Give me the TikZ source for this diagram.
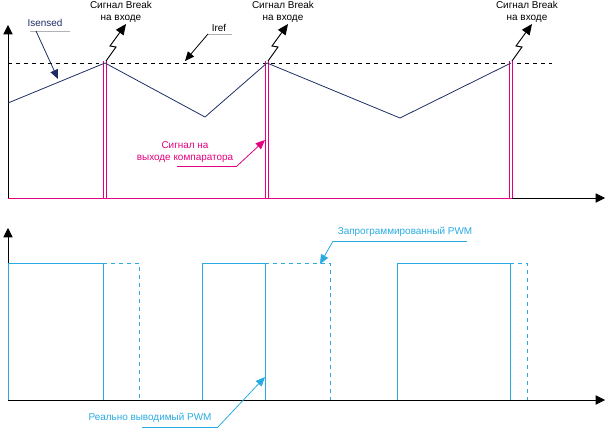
\documentclass[tikz,border=0pt]{standalone}
\usepackage{fontspec}
\setmainfont{Liberation Sans}
\definecolor{navy}{RGB}{31,45,100}
\definecolor{magent}{RGB}{228,0,126}
\definecolor{pwmblue}{RGB}{41,171,226}
\tikzset{
  lbl/.style={font=\fontsize{7.5}{8.5}\selectfont, inner sep=1pt, align=center},
  axis/.style={-{Triangle[length=7pt,width=7pt]}, black, line width=0.6pt},
  lead/.style={-{Triangle[length=7pt,width=6pt]}, line width=0.6pt},
  bolt/.style={-{Triangle[length=8pt,width=7pt]}, black, line width=0.7pt},
  pulse/.style={magent, double=white, double distance=1.5pt, line width=0.6pt}
}
\usetikzlibrary{arrows.meta}
\begin{document}
\begin{tikzpicture}[x=0.0265cm, y=-0.0265cm, line width=0.6pt]
  \useasboundingbox (0,0) rectangle (606,429);
  % upper plot
  \draw [axis] (8,198) -- (8,25);
  \draw [axis] (512,198) -- (605,198);
  \draw [magent] (8,198) -- (512,198);
  \draw [dashed] (8,63) -- (552,63);
  \foreach \px in {105,267,511}
    \draw [pulse] (\px,198) -- (\px,61);
  \draw [navy] (8,103) -- (105,63) -- (205,117) -- (267,63) -- (400,118) -- (511,63);
  % break bolts
  \foreach \px/\nm in {105/a,267/b,511/c}{
    \coordinate (bolt\nm) at (\px+1,61);
    \draw [bolt] (bolt\nm) -- ++(10,-14) -- ++(-6,-1) -- ++(16,-22);
    \node [lbl] (brk\nm) at (\px+16,12) {Сигнал Break\\на входе};
  }
  % labels with leaders
  \node [lbl, navy] (isens) at (45,23) {Isensed};
  \draw [gray!60] (30,31) -- (70,31);
  \draw [lead, navy] (36,31) -- (58,79);
  \node [lbl] (iref) at (219,28) {Iref};
  \draw [gray!60] (208,34) -- (232,34);
  \draw [lead] (208,34) -- (185,61);
  \node [lbl, magent] (comp) at (185,152) {Сигнал на\\выходе компаратора};
  \draw [magent] (177,166) -- (237,166);
  \draw [lead, magent] (237,166) -- (265,140);
  % lower plot
  \draw [axis] (8,400) -- (8,228);
  \draw [axis] (8,400) -- (605,400);
  \draw [pwmblue] (8,400) -- (8,263) -- (103,263) -- (103,400)
    (202,400) -- (202,263) -- (265,263) -- (265,400)
    (397,400) -- (397,263) -- (510,263) -- (510,400);
  \draw [pwmblue, dashed] (103,263) -- (139,263) -- (139,400)
    (265,263) -- (330,263) -- (330,400)
    (510,263) -- (527,263) -- (527,400);
  \node [lbl, pwmblue] (prog) at (405,232) {Запрограммированный PWM};
  \draw [pwmblue] (333,241) -- (467,241);
  \draw [lead, pwmblue] (333,241) -- (320,264);
  \node [lbl, pwmblue] (real) at (150,418) {Реально выводимый PWM};
  \draw [pwmblue] (142,427) -- (218,427);
  \draw [lead, pwmblue] (218,427) -- (265,377);
\end{tikzpicture}
\end{document}
